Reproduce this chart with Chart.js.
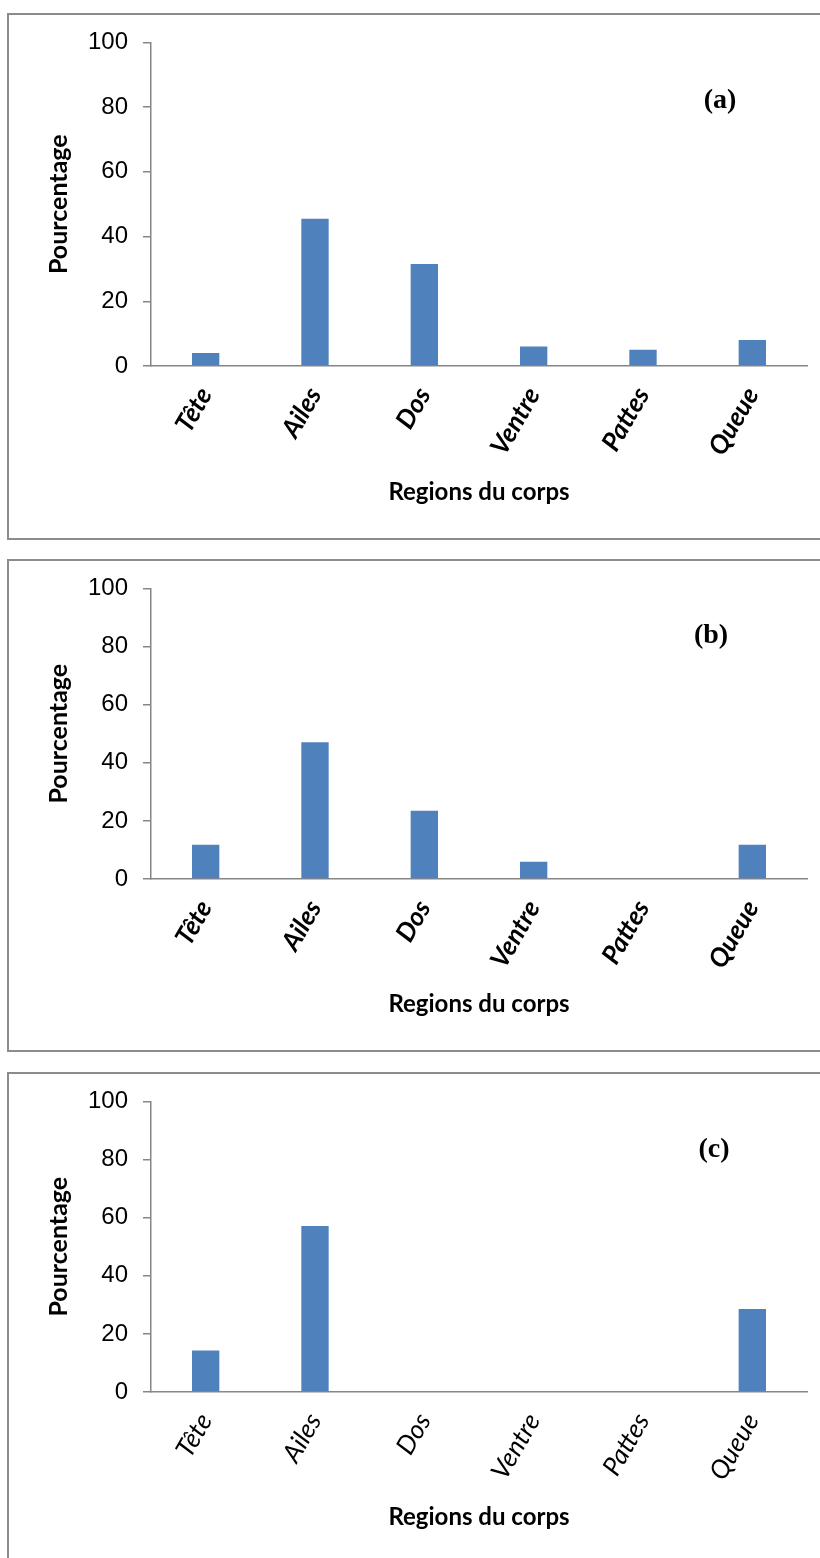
<!DOCTYPE html>
<html>
<head>
<meta charset="utf-8">
<script src="https://cdn.jsdelivr.net/npm/chart.js@4.4.1/dist/chart.umd.min.js"></script>
<style>
  html, body { margin: 0; padding: 0; background: #fff; }
  body { width: 820px; height: 1558px; position: relative; overflow: hidden; }
  .panel { position: absolute; left: 7px; width: 840px; border: 2px solid #8c8c8c; box-sizing: border-box; }
  canvas { position: absolute; left: 0; }
  .tag { position: absolute; font: bold 28px "Liberation Serif", serif; color: #000; transform: translate(-50%, -50%); white-space: nowrap; }
</style>
</head>
<body>
<div class="panel" style="top:13px;height:527px"></div>
<div class="panel" style="top:559px;height:493px"></div>
<div class="panel" style="top:1072px;height:500px"></div>

<canvas id="chartA" width="820" height="526" style="top:13px"></canvas>
<canvas id="chartB" width="820" height="492" style="top:559px"></canvas>
<canvas id="chartC" width="820" height="486" style="top:1072px"></canvas>

<div class="tag" style="left:720px;top:99px">(a)</div>
<div class="tag" style="left:711px;top:634px">(b)</div>
<div class="tag" style="left:714px;top:1148px">(c)</div>

<script>
// Body regions and the share of each (in %) for the three groups
const categories = ['Tête', 'Ailes', 'Dos', 'Ventre', 'Pattes', 'Queue'];
const valuesA = [4, 45.5, 31.5, 6, 5, 8];
const valuesB = [11.8, 47.1, 23.5, 5.9, 0, 11.8];
const valuesC = [14.3, 57.1, 0, 0, 0, 28.6];
const yTicks = [0, 20, 40, 60, 80, 100];
const yTitle = 'Pourcentage';
const xTitle = 'Regions du corps';

const BAR = '#4F81BD';
const AXIS = '#868686';

function makeChart(id, values, geo, labelBold) {
  const canvas = document.getElementById(id);
  const H = canvas.height;
  return new Chart(canvas, {
    type: 'bar',
    data: {
      labels: categories,
      datasets: [{
        data: values,
        backgroundColor: BAR,
        borderWidth: 0,
        barPercentage: 0.25,
        categoryPercentage: 1
      }]
    },
    options: {
      responsive: false,
      animation: false,
      devicePixelRatio: 1,
      layout: { padding: { top: geo.plotTop, right: 13, left: 0, bottom: 0 } },
      plugins: { legend: { display: false }, tooltip: { enabled: false } },
      scales: {
        x: {
          grid: { display: false, drawTicks: false },
          border: { display: true, color: AXIS, width: 1.5 },
          ticks: {
            autoSkip: false,
            minRotation: 60,
            maxRotation: 60,
            padding: 16,
            color: '#000',
            font: { family: 'Lato', size: 26, weight: labelBold ? 'bold' : 'normal', style: 'italic' }
          },
          title: {
            display: true,
            text: xTitle,
            color: '#000',
            font: { family: 'Lato', size: 24, weight: 'bold' },
            padding: { top: 0, bottom: geo.titlePad }
          },
          afterFit(scale) { scale.height = H - geo.plotBottom; }
        },
        y: {
          min: 0,
          max: 100,
          afterBuildTicks(scale) { scale.ticks = yTicks.map(v => ({ value: v })); },
          grid: { drawOnChartArea: false, drawTicks: true, tickLength: 8, color: AXIS, lineWidth: 1.5 },
          border: { display: true, color: AXIS, width: 1.5 },
          ticks: {
            padding: 15,
            color: '#000',
            font: { family: 'Liberation Sans', size: 24 }
          },
          title: {
            display: true,
            text: yTitle,
            color: '#000',
            font: { family: 'Lato', size: 25, weight: 'bold' },
            padding: { top: 44, bottom: 0 }
          },
          afterFit(scale) { scale.width = 151; }
        }
      }
    }
  });
}

makeChart('chartA', valuesA, { plotTop: 28.5, plotBottom: 353, titlePad: 32 }, true);
makeChart('chartB', valuesB, { plotTop: 29, plotBottom: 320, titlePad: 32 }, true);
makeChart('chartC', valuesC, { plotTop: 28, plotBottom: 320, titlePad: 26 }, false);
</script>
</body>
</html>
